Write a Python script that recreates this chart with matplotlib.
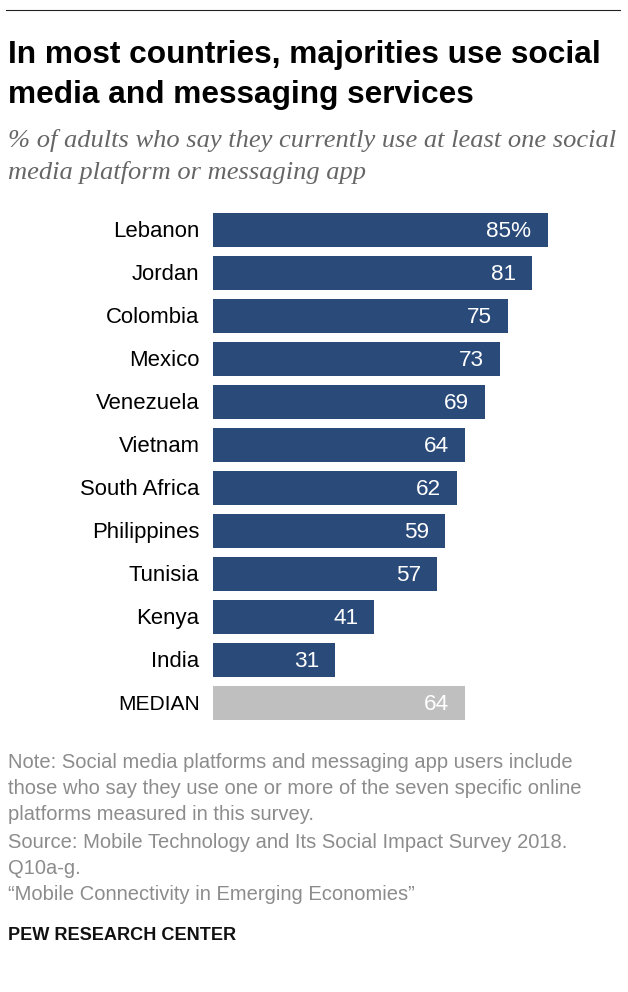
import matplotlib
matplotlib.use("Agg")
import matplotlib.pyplot as plt

countries = ["Lebanon","Jordan","Colombia","Mexico","Venezuela","Vietnam","South Africa","Philippines","Tunisia","Kenya","India","MEDIAN"]
values = [85,81,75,73,69,64,62,59,57,41,31,64]
labels = ["85%","81","75","73","69","64","62","59","57","41","31","64"]
NAVY="#2a4a7a"; GREY="#bfbfbf"
W,H=628,992
SANS="Liberation Sans"
fig=plt.figure(figsize=(W/100,H/100),dpi=100,facecolor="white")
def T(x,y,s,**k):
    fig.text(x/W,1-y/H,s,va="center",**k)
fig.add_artist(plt.Line2D([6/W,620/W],[1-9.5/H,1-9.5/H],color="#222222",lw=0.8))
T(8,55,"In most countries, majorities use social",fontsize=22.8,fontweight="bold",family=SANS,color="black")
T(8,95,"media and messaging services",fontsize=22.8,fontweight="bold",family=SANS,color="black")
T(8,140,"% of adults who say they currently use at least one social",fontsize=19.05,style="italic",family="Liberation Serif",color="#666666")
T(8,172,"media platform or messaging app",fontsize=19.05,style="italic",family="Liberation Serif",color="#666666")

x0,x1=213,547.5
ax=fig.add_axes([x0/W,1-(724.5/H),(x1-x0)/W,(724.5-208.5)/H])
ax.set_xlim(0,85)
ys=list(range(len(values)))
ax.set_ylim(len(values)-0.5,-0.5)
colors=[NAVY]*11+[GREY]
ax.barh(ys,values,height=0.79,color=colors)
for y,v,l,c in zip(ys,values,labels,countries):
    ax.text(v-4.07,y+0.04,l,ha="right",va="center",color="white",fontsize=16.2,family=SANS)
    ax.text(-3.4,y+0.04,c,ha="right",va="center",color="black",fontsize=15.9 if c!="MEDIAN" else 15.1,family=SANS,clip_on=False)
ax.axis("off")
notes=[(762,"Note: Social media platforms and messaging app users include"),
(789,"those who say they use one or more of the seven specific online"),
(815,"platforms measured in this survey."),
(842,"Source: Mobile Technology and Its Social Impact Survey 2018."),
(868,"Q10a-g."),
(895,"“Mobile Connectivity in Emerging Economies”")]
for y,s in notes:
    T(8,y,s,fontsize=14.5,family=SANS,color="#8c8c8c")
T(8,935,"PEW RESEARCH CENTER",fontsize=13.05,fontweight="bold",family=SANS,color="#111111")
fig.savefig("out.png",dpi=100)
